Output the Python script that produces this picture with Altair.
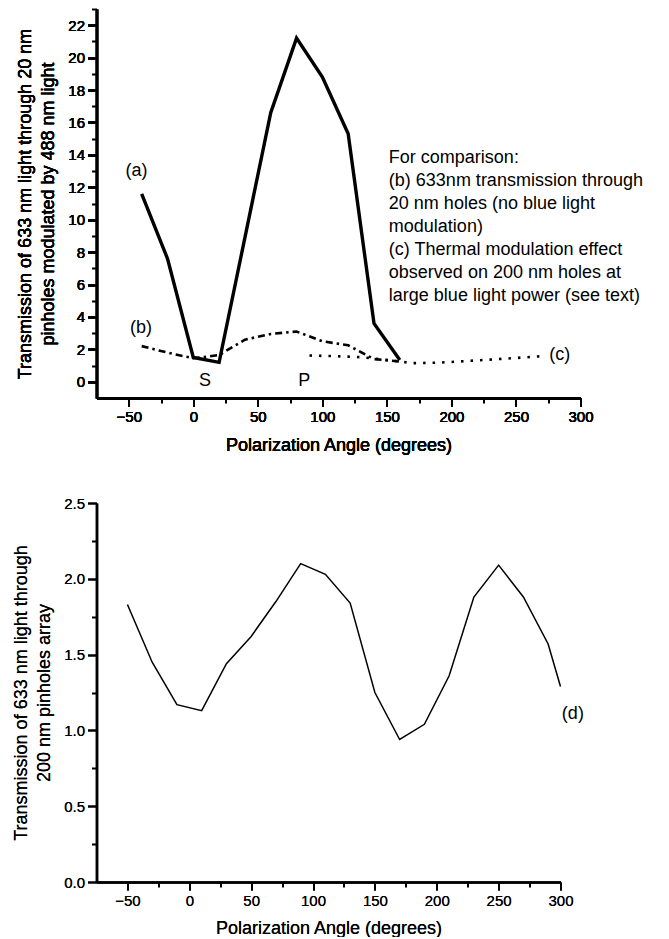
import altair as alt
import pandas as pd

# ---- data ----
A_ANGLE = [-40, -20, 0, 20, 60, 80, 100, 120, 140, 160]
A_VALUE = [11.6, 7.6, 1.5, 1.2, 16.6, 21.2, 18.8, 15.3, 3.6, 1.35]

B_ANGLE = [-40, -20, 0, 20, 40, 60, 80, 100, 120, 140, 160]
B_VALUE = [2.2, 1.8, 1.45, 1.65, 2.6, 2.95, 3.1, 2.5, 2.25, 1.4, 1.25]

C_ANGLE = [90, 110, 130, 150, 170, 190, 210, 230, 250, 270]
C_VALUE = [1.62, 1.58, 1.52, 1.35, 1.15, 1.18, 1.27, 1.37, 1.47, 1.58]

D_ANGLE = [-50, -30, -10, 10, 30, 50, 70, 90, 110, 130, 150, 170, 190, 210, 230, 250, 270, 290, 300]
D_VALUE = [1.83, 1.45, 1.17, 1.13, 1.44, 1.62, 1.85, 2.10, 2.03, 1.84, 1.25, 0.94, 1.04, 1.36, 1.88, 2.09, 1.88, 1.57, 1.29]

TOP_LABELS = ["(a)", "(b)", "(c)", "S", "P"]
TOP_LABEL_X = [-44, -40.5, 284, 9, 86]
TOP_LABEL_Y = [13.0, 3.33, 1.68, 0.05, 0.05]

NOTE_TEXT = ["For comparison:",
             "(b) 633nm transmission through",
             "20 nm holes (no blue light",
             "modulation)",
             "(c) Thermal modulation effect",
             "observed on 200 nm holes at",
             "large blue light power (see text)"]
NOTE_X = [151.5]
NOTE_Y = [13.5]

D_LABEL = ["(d)"]
D_LABEL_X = [310]
D_LABEL_Y = [1.11]

X_MAJOR = [-50, 0, 50, 100, 150, 200, 250, 300]
X_MINOR = [-25, 25, 75, 125, 175, 225, 275]
TOP_Y_MAJOR = [0, 2, 4, 6, 8, 10, 12, 14, 16, 18, 20, 22]
TOP_Y_MINOR = [1, 3, 5, 7, 9, 11, 13, 15, 17, 19, 21, 23]
BOT_Y_MAJOR = [0.0, 0.5, 1.0, 1.5, 2.0, 2.5]
BOT_Y_MINOR = [0.25, 0.75, 1.25, 1.75, 2.25]

FONT = "Liberation Sans"

df_a = pd.DataFrame({"angle": A_ANGLE, "value": A_VALUE})
df_b = pd.DataFrame({"angle": B_ANGLE, "value": B_VALUE})
df_c = pd.DataFrame({"angle": C_ANGLE, "value": C_VALUE})
df_d = pd.DataFrame({"angle": D_ANGLE, "value": D_VALUE})
df_lab = pd.DataFrame({"angle": TOP_LABEL_X, "value": TOP_LABEL_Y, "label": TOP_LABELS})
df_note = pd.DataFrame({"angle": NOTE_X, "value": NOTE_Y, "label": ["\n".join(NOTE_TEXT)]})
df_dlab = pd.DataFrame({"angle": D_LABEL_X, "value": D_LABEL_Y, "label": D_LABEL})

X_TITLE = "Polarization Angle (degrees)"

# ---------------- top chart ----------------
xs_top = alt.Scale(domain=[-75, 300], nice=False, zero=False)
ys_top = alt.Scale(domain=[-1, 23], nice=False, zero=False)

x_top_axis = alt.Axis(values=X_MAJOR, title=X_TITLE, tickSize=8, labelPadding=3.5,
                      titlePadding=12, orient="bottom")
y_top_axis = alt.Axis(values=TOP_Y_MAJOR, title=["Transmission of 633 nm light through 20 nm",
                                                 "pinholes modulated by 488 nm light"],
                      tickSize=9, labelPadding=3, titlePadding=10, orient="left")

line_a = alt.Chart(df_a).mark_line(color="black", strokeWidth=3.4, strokeJoin="miter").encode(
    x=alt.X("angle:Q", scale=xs_top, axis=x_top_axis),
    y=alt.Y("value:Q", scale=ys_top, axis=y_top_axis),
)
line_b = alt.Chart(df_b).mark_line(color="black", strokeWidth=2.6, strokeDash=[7, 4, 2.5, 4]).encode(
    x=alt.X("angle:Q", scale=xs_top, axis=x_top_axis),
    y=alt.Y("value:Q", scale=ys_top, axis=y_top_axis),
)
line_c = alt.Chart(df_c).mark_line(color="black", strokeWidth=2.6, strokeDash=[2.5, 7]).encode(
    x=alt.X("angle:Q", scale=xs_top, axis=x_top_axis),
    y=alt.Y("value:Q", scale=ys_top, axis=y_top_axis),
)
labels_top = alt.Chart(df_lab).mark_text(font=FONT, fontSize=18, color="black",
                                         align="center", baseline="middle").encode(
    x=alt.X("angle:Q", scale=xs_top, axis=x_top_axis),
    y=alt.Y("value:Q", scale=ys_top, axis=y_top_axis),
    text="label:N",
)
note = alt.Chart(df_note).mark_text(font=FONT, fontSize=18, color="black", align="left",
                                    baseline="alphabetic", lineBreak="\n", lineHeight=23).encode(
    x=alt.X("angle:Q", scale=xs_top, axis=x_top_axis),
    y=alt.Y("value:Q", scale=ys_top, axis=y_top_axis),
    text="label:N",
)
minor_top = alt.Chart(df_a).mark_point(opacity=0).encode(
    x=alt.X("angle:Q", scale=xs_top,
            axis=alt.Axis(values=X_MINOR, labels=False, domain=False, tickSize=5,
                          title=None, orient="bottom")),
    y=alt.Y("value:Q", scale=ys_top,
            axis=alt.Axis(values=TOP_Y_MINOR, labels=False, domain=False, tickSize=5,
                          title=None, orient="left")),
)

top = alt.layer(line_a, line_b, line_c, labels_top, note, minor_top).resolve_axis(
    x="independent", y="independent"
).properties(width=484, height=389)

# ---------------- bottom chart ----------------
xs_bot = alt.Scale(domain=[-75, 300], nice=False, zero=False)
ys_bot = alt.Scale(domain=[0, 2.5], nice=False, zero=False)

x_bot_axis = alt.Axis(values=X_MAJOR, title=X_TITLE, tickSize=8, labelPadding=3,
                      titlePadding=11, orient="bottom")
y_bot_axis = alt.Axis(values=BOT_Y_MAJOR, format=".1f",
                      title=["Transmission of 633 nm light through", "200 nm pinholes array"],
                      tickSize=9, labelPadding=3, titlePadding=10, orient="left")

line_d = alt.Chart(df_d).mark_line(color="black", strokeWidth=1.5).encode(
    x=alt.X("angle:Q", scale=xs_bot, axis=x_bot_axis),
    y=alt.Y("value:Q", scale=ys_bot, axis=y_bot_axis),
)
label_d = alt.Chart(df_dlab).mark_text(font=FONT, fontSize=18, color="black",
                                       align="center", baseline="middle").encode(
    x=alt.X("angle:Q", scale=xs_bot, axis=x_bot_axis),
    y=alt.Y("value:Q", scale=ys_bot, axis=y_bot_axis),
    text="label:N",
)
minor_bot = alt.Chart(df_d).mark_point(opacity=0).encode(
    x=alt.X("angle:Q", scale=xs_bot,
            axis=alt.Axis(values=X_MINOR, labels=False, domain=False, tickSize=5,
                          title=None, orient="bottom")),
    y=alt.Y("value:Q", scale=ys_bot,
            axis=alt.Axis(values=BOT_Y_MINOR, labels=False, domain=False, tickSize=5,
                          title=None, orient="left")),
)

bottom = alt.layer(line_d, label_d, minor_bot).resolve_axis(
    x="independent", y="independent"
).properties(width=464, height=379)

chart = alt.vconcat(top, bottom, spacing=41).properties(
    padding={"left": 4.5, "top": 0, "right": 5, "bottom": 0},
    background="white",
).configure_view(stroke=None).configure_axis(
    labelFont=FONT, labelFontSize=15, labelColor="black",
    titleFont=FONT, titleFontSize=18, titleFontWeight="normal", titleColor="black",
    titleLineHeight=23,
    domainColor="black", domainWidth=2.5, tickColor="black", tickWidth=2,
    grid=False, labelFlush=False,
)

chart.save("out.html", embed_options={"renderer": "svg", "actions": False})
